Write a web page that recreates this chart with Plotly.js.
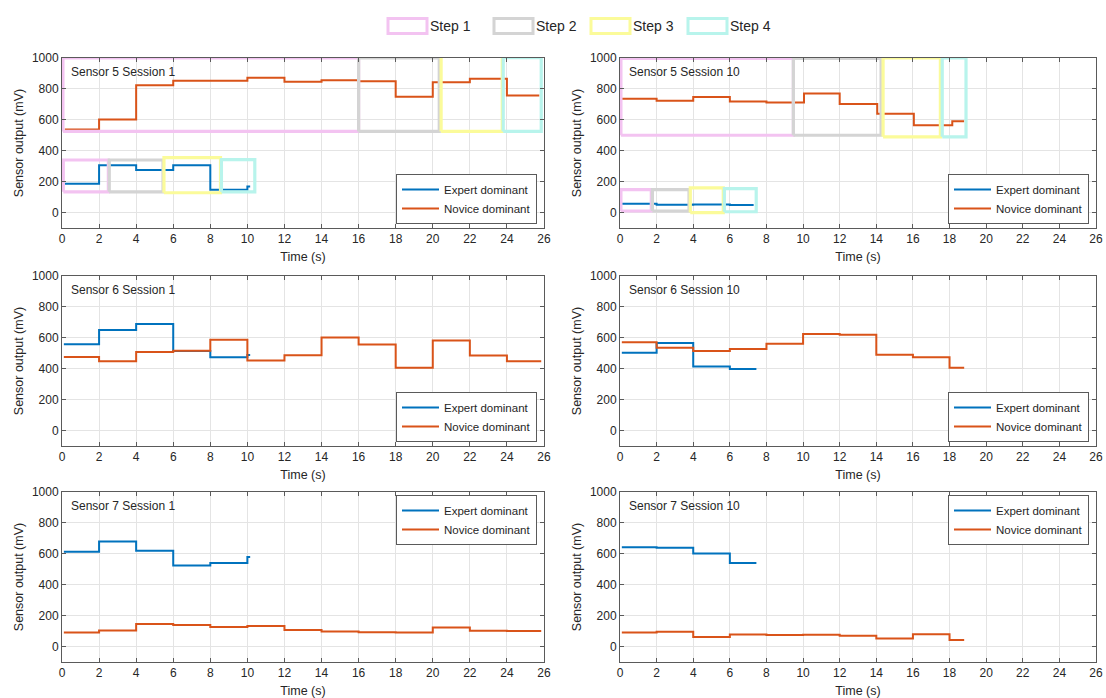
<!DOCTYPE html>
<html>
<head>
<meta charset="utf-8">
<script src="https://cdn.plot.ly/plotly-3.0.1.min.js"></script>
<style>html,body{margin:0;padding:0;background:#fff;}#chart{width:1106px;height:698px;}</style>
</head>
<body>
<div id="chart"></div>
<script>
// ---------- data ----------
const panelTitles = ["Sensor 5 Session 1", "Sensor 5 Session 10", "Sensor 6 Session 1", "Sensor 6 Session 10", "Sensor 7 Session 1", "Sensor 7 Session 10"];
const seriesNames = ["Expert dominant", "Novice dominant"];
const stepNames = ["Step 1", "Step 2", "Step 3", "Step 4"];
const xTickVals = [0, 2, 4, 6, 8, 10, 12, 14, 16, 18, 20, 22, 24, 26];
const yTickVals = [0, 200, 400, 600, 800, 1000];

// Sensor 5 Session 1
const s5s1ExpT = [0.15, 2, 4, 6, 8, 10, 10.15];
const s5s1ExpV = [186, 306, 276, 306, 147, 169, 169];
const s5s1NovT = [0.15, 2, 4, 6, 8, 10, 12, 14, 16, 18, 20, 22, 24, 25.75];
const s5s1NovV = [538, 602, 823, 852, 852, 872, 847, 856, 850, 750, 843, 865, 757, 757];
// Sensor 5 Session 10
const s5s10ExpT = [0.1, 2, 4, 6, 7.3];
const s5s10ExpV = [57, 51, 52, 49, 49];
const s5s10NovT = [0.1, 2, 4, 6, 8, 10.05, 12, 14.05, 16.05, 18.15, 18.8];
const s5s10NovV = [737, 723, 748, 719, 712, 770, 702, 640, 565, 591, 591];
// Sensor 6 Session 1
const s6s1ExpT = [0.1, 2, 4, 6, 8, 10, 10.15];
const s6s1ExpV = [559, 650, 689, 515, 474, 489, 489];
const s6s1NovT = [0.1, 2, 4, 6, 8, 10, 12, 14, 16, 18, 20, 22, 24, 25.85];
const s6s1NovV = [476, 448, 509, 517, 587, 454, 487, 602, 557, 407, 583, 485, 448, 448];
// Sensor 6 Session 10
const s6s10ExpT = [0.1, 2, 4, 6, 7.45];
const s6s10ExpV = [504, 567, 415, 398, 398];
const s6s10NovT = [0.1, 2, 4, 6, 8, 10, 12, 14, 16, 18, 18.8];
const s6s10NovV = [572, 535, 515, 528, 561, 624, 620, 491, 474, 407, 407];
// Sensor 7 Session 1
const s7s1ExpT = [0.1, 2, 4, 6, 8, 10, 10.15];
const s7s1ExpV = [613, 680, 620, 524, 541, 580, 580];
const s7s1NovT = [0.1, 2, 4, 6, 8, 10, 12, 14, 16, 18, 20, 22, 24, 25.85];
const s7s1NovV = [91, 104, 146, 139, 126, 133, 107, 98, 93, 91, 124, 102, 100, 100];
// Sensor 7 Session 10
const s7s10ExpT = [0.1, 2, 4, 6, 7.45];
const s7s10ExpV = [643, 639, 602, 541, 541];
const s7s10NovT = [0.1, 2, 4, 6, 8, 10, 12, 14, 16, 18, 18.8];
const s7s10NovV = [91, 96, 61, 78, 74, 76, 70, 52, 80, 43, 43];

// Step boxes (Sensor 5 only): start, end, low, high for each step
const s5s1NovStepStart = [0.05, 16, 20.45, 23.8];
const s5s1NovStepEnd   = [16, 20.35, 23.75, 25.85];
const s5s1NovStepLow   = [525, 525, 525, 525];
const s5s1NovStepHigh  = [1000, 1000, 1010, 1003];
const s5s1ExpStepStart = [0.07, 2.55, 5.5, 8.6];
const s5s1ExpStepEnd   = [2.5, 5.45, 8.55, 10.4];
const s5s1ExpStepLow   = [134, 134, 128, 134];
const s5s1ExpStepHigh  = [340, 340, 356, 343];
const s5s10NovStepStart = [0.05, 9.47, 14.37, 17.6];
const s5s10NovStepEnd   = [9.47, 14.26, 17.5, 18.9];
const s5s10NovStepLow   = [500, 500, 490, 490];
const s5s10NovStepHigh  = [997, 997, 1000, 1000];
const s5s10ExpStepStart = [0.05, 1.77, 3.84, 5.7];
const s5s10ExpStepEnd   = [1.71, 3.77, 5.64, 7.44];
const s5s10ExpStepLow   = [10, 10, 0, 5];
const s5s10ExpStepHigh  = [148, 148, 160, 155];

// ---------- styling ----------
const expColor = "#0072BD";
const novColor = "#D95319";
const stepColors = ["#f3c3f1", "#d4d4d4", "#fbfb9a", "#b8f4ec"];
const font = "Liberation Sans, Arial, sans-serif";
const textColor = "#262626";

const panels = [
  {expT: s5s1ExpT, expV: s5s1ExpV, novT: s5s1NovT, novV: s5s1NovV,
   steps: [[s5s1ExpStepStart, s5s1ExpStepEnd, s5s1ExpStepLow, s5s1ExpStepHigh],
           [s5s1NovStepStart, s5s1NovStepEnd, s5s1NovStepLow, s5s1NovStepHigh]], legendTop: false},
  {expT: s5s10ExpT, expV: s5s10ExpV, novT: s5s10NovT, novV: s5s10NovV,
   steps: [[s5s10ExpStepStart, s5s10ExpStepEnd, s5s10ExpStepLow, s5s10ExpStepHigh],
           [s5s10NovStepStart, s5s10NovStepEnd, s5s10NovStepLow, s5s10NovStepHigh]], legendTop: false},
  {expT: s6s1ExpT, expV: s6s1ExpV, novT: s6s1NovT, novV: s6s1NovV, steps: [], legendTop: false},
  {expT: s6s10ExpT, expV: s6s10ExpV, novT: s6s10NovT, novV: s6s10NovV, steps: [], legendTop: false},
  {expT: s7s1ExpT, expV: s7s1ExpV, novT: s7s1NovT, novV: s7s1NovV, steps: [], legendTop: true},
  {expT: s7s10ExpT, expV: s7s10ExpV, novT: s7s10NovT, novV: s7s10NovV, steps: [], legendTop: true}
];

// pixel geometry of plot areas
const W = 1106, H = 698;
const colX = [[62, 544], [620, 1096]];
const rowY = [[58, 228], [276, 446], [492, 662]];
// top "Step" legend geometry (pixels)
const stepLegendLeft = [388, 494, 591, 688];
const stepLegendBox = {w: 39, h: 15, cy: 26};

const traces = [];
const layout = {
  width: W, height: H,
  margin: {l: 0, r: 0, t: 0, b: 0},
  paper_bgcolor: "#ffffff", plot_bgcolor: "#ffffff",
  font: {family: font, size: 12, color: textColor},
  annotations: [], shapes: [],
  showlegend: true
};

panels.forEach((p, i) => {
  const n = i + 1;
  const xa = n === 1 ? "x" : "x" + n;
  const ya = n === 1 ? "y" : "y" + n;
  const lg = n === 1 ? "legend" : "legend" + n;
  const col = i % 2, row = Math.floor(i / 2);
  const [px0, px1] = colX[col];
  const [py0, py1] = rowY[row];

  traces.push({type: "scatter", mode: "lines", x: p.expT, y: p.expV, xaxis: xa, yaxis: ya,
    line: {color: expColor, width: 2, shape: "hv"}, name: seriesNames[0], legend: lg, hoverinfo: "skip"});
  traces.push({type: "scatter", mode: "lines", x: p.novT, y: p.novV, xaxis: xa, yaxis: ya,
    line: {color: novColor, width: 2, shape: "hv"}, name: seriesNames[1], legend: lg, hoverinfo: "skip"});

  const axBase = {
    showline: true, linecolor: "#5a5a5a", linewidth: 1, mirror: "ticks",
    ticks: "inside", ticklen: 4, tickcolor: "#5a5a5a",
    showgrid: true, gridcolor: "#e4e4e4", gridwidth: 1, zeroline: false,
    tickfont: {family: font, size: 12, color: textColor}, automargin: false, fixedrange: true,
    ticklabeloverflow: "allow"
  };
  layout["xaxis" + (n === 1 ? "" : n)] = Object.assign({}, axBase, {
    domain: [px0 / W, px1 / W], anchor: ya, range: [0, 26],
    tickmode: "array", tickvals: xTickVals,
    title: {text: "Time (s)", font: {family: font, size: 12.5, color: textColor}, standoff: 6}
  });
  layout["yaxis" + (n === 1 ? "" : n)] = Object.assign({}, axBase, {
    domain: [1 - py1 / H, 1 - py0 / H], anchor: xa, range: [-100, 1000],
    tickmode: "array", tickvals: yTickVals,
    title: {text: "Sensor output (mV)", font: {family: font, size: 12.5, color: textColor}, standoff: 5}
  });
  layout.annotations.push({
    xref: (xa === "x" ? "x" : xa) + " domain", yref: (ya === "y" ? "y" : ya) + " domain",
    x: 0.015, y: 0.97, xanchor: "left", yanchor: "top", showarrow: false,
    text: panelTitles[i], font: {family: font, size: 12, color: textColor}
  });
  layout[lg] = {
    xref: "paper", yref: "paper",
    x: (px1 - 7) / W, xanchor: "right",
    y: p.legendTop ? 1 - (py0 + 28) / H : 1 - (py1 - 29) / H,
    yanchor: "middle",
    bgcolor: "#ffffff", bordercolor: "#5a5a5a", borderwidth: 1,
    font: {family: font, size: 11.5, color: textColor},
    tracegroupgap: 0, itemwidth: 37
  };
});

// Step boxes, drawn on top of the lines
panels.forEach((p, i) => {
  const n = i + 1;
  const xa = n === 1 ? "x" : "x" + n;
  const ya = n === 1 ? "y" : "y" + n;
  p.steps.forEach((g) => {
    const [st, en, lo, hi] = g;
    for (let k = 0; k < st.length; k++) {
      traces.push({type: "scatter", mode: "lines", xaxis: xa, yaxis: ya,
        x: [st[k], en[k], en[k], st[k], st[k]],
        y: [lo[k], lo[k], hi[k], hi[k], lo[k]],
        line: {color: stepColors[k], width: 3.2},
        name: stepNames[k], showlegend: false, hoverinfo: "skip"});
    }
  });
});

// Top "Step" legend: outline swatches + labels
stepNames.forEach((name, k) => {
  const x0 = stepLegendLeft[k];
  layout.shapes.push({
    type: "rect", xref: "paper", yref: "paper",
    x0: x0 / W, x1: (x0 + stepLegendBox.w) / W,
    y0: 1 - (stepLegendBox.cy + stepLegendBox.h / 2) / H,
    y1: 1 - (stepLegendBox.cy - stepLegendBox.h / 2) / H,
    line: {color: stepColors[k], width: 3}, fillcolor: "rgba(0,0,0,0)"
  });
  layout.annotations.push({
    xref: "paper", yref: "paper", x: (x0 + stepLegendBox.w + 1) / W, y: 1 - stepLegendBox.cy / H,
    xanchor: "left", yanchor: "middle", showarrow: false, text: name,
    font: {family: font, size: 14, color: textColor}
  });
});

Plotly.newPlot("chart", traces, layout, {staticPlot: true, displayModeBar: false});
</script>
</body>
</html>
